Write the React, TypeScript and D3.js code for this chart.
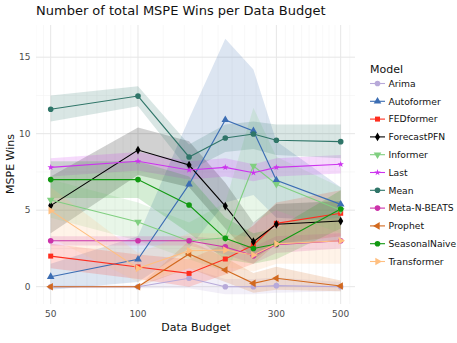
import React from "react";
import * as d3 from "d3";

// data budgets and series values
const budgets = [50, 100, 150, 200, 250, 300, 500];
const xTicks = [50, 100, 300, 500];
const yTicks = [0, 5, 10, 15];

const models = ["Arima", "Autoformer", "FEDformer", "ForecastPFN", "Informer", "Last", "Mean", "Meta-N-BEATS", "Prophet", "SeasonalNaive", "Transformer"];

const arima = [0, 0, 0.55, 0, 0, 0.07, 0];
const autoformer = [0.65, 1.79, 6.69, 10.9, 10.18, 6.96, 5.38];
const fedformer = [2.0, 1.29, 0.87, 1.81, 2.73, 4.14, 4.8];
const forecastpfn = [5.3, 8.93, 7.95, 5.27, 2.94, 4.08, 4.29];
const informer = [5.67, 4.23, 2.99, 3.2, 7.89, 6.7, 5.0];
const last = [7.8, 8.2, 7.63, 7.8, 7.45, 7.8, 8.0];
const mean = [11.6, 12.46, 8.48, 9.72, 9.98, 9.57, 9.48];
const metaNBeats = [3.0, 3.0, 3.0, 2.6, 2.03, 2.75, 3.0];
const prophet = [0, 0, 2.14, 1.09, 0.22, 0.55, 0.05];
const seasonalNaive = [7.0, 7.0, 5.34, 3.16, 2.5, 2.79, 5.08];
const transformer = [4.97, 1.2, 2.35, 2.4, 2.07, 2.8, 3.0];

// ribbon bounds
const arimaLo = [-0.1, -0.1, -0.1, -0.5, -0.5, -0.4, -0.3];
const arimaHi = [0.1, 0.1, 1.2, 0.5, 0.5, 0.6, 0.3];
const autoformerLo = [-0.2, 0.3, 2.5, 5.5, 6.0, 4.5, 4.3];
const autoformerHi = [1.5, 3.3, 11.0, 16.2, 14.2, 9.5, 6.5];
const fedformerLo = [1.2, 0.5, 0.0, 0.8, 1.5, 2.8, 3.3];
const fedformerHi = [2.8, 2.1, 1.8, 2.8, 4.0, 5.5, 6.3];
const forecastpfnLo = [3.5, 7.3, 6.5, 3.8, 1.8, 2.8, 3.0];
const forecastpfnHi = [7.2, 10.4, 9.5, 6.8, 4.2, 5.4, 5.6];
const informerLo = [4.5, 3.0, 1.8, 1.0, 4.2, 5.0, 3.5];
const informerHi = [7.0, 5.5, 4.2, 5.5, 11.7, 8.5, 6.5];
const lastLo = [7.2, 7.6, 7.0, 7.2, 6.9, 7.2, 7.4];
const lastHi = [8.4, 8.8, 8.2, 8.4, 8.0, 8.4, 8.6];
const meanLo = [10.8, 11.8, 7.6, 8.8, 9.0, 8.6, 8.4];
const meanHi = [12.5, 13.1, 9.3, 10.6, 10.8, 10.6, 10.6];
const metaLo = [2.7, 2.7, 2.7, 2.1, 1.5, 2.2, 2.5];
const metaHi = [3.3, 3.3, 3.3, 3.1, 2.6, 3.3, 3.5];
const prophetLo = [0, 0, 1.2, 0.3, -0.4, -0.2, -0.3];
const prophetHi = [0, 0, 3.0, 1.9, 0.9, 1.3, 0.4];
const naiveLo = [5.8, 5.8, 3.5, 1.8, 1.5, 1.8, 3.8];
const naiveHi = [8.2, 8.2, 7.2, 4.5, 3.5, 3.8, 6.3];
const transformerLo = [3.2, 0.3, 1.2, 1.3, 1.0, 1.5, 1.5];
const transformerHi = [6.5, 2.2, 3.5, 3.5, 3.2, 4.2, 4.5];

const colors = ["#b7a9d9", "#3b6db3", "#ff2d1e", "#000000", "#80cf80", "#cc33ee", "#2f7568", "#cc33aa", "#d2691e", "#119911", "#ffbf80"];
const shapes = ["circle", "triangle", "square", "diamond", "triangleDown", "star", "circle", "circle", "triangleLeft", "circle", "triangleRight"];

const series = [
  [arima, arimaLo, arimaHi],
  [autoformer, autoformerLo, autoformerHi],
  [fedformer, fedformerLo, fedformerHi],
  [forecastpfn, forecastpfnLo, forecastpfnHi],
  [informer, informerLo, informerHi],
  [last, lastLo, lastHi],
  [mean, meanLo, meanHi],
  [metaNBeats, metaLo, metaHi],
  [prophet, prophetLo, prophetHi],
  [seasonalNaive, naiveLo, naiveHi],
  [transformer, transformerLo, transformerHi],
];

const W = 457, H = 343;
const panel = { left: 36, right: 355, top: 25, bottom: 304 };
const font = "DejaVu Sans, sans-serif";

function symbolPath(shape: string) {
  const map: any = {
    circle: d3.symbolCircle,
    triangle: d3.symbolTriangle,
    triangleDown: d3.symbolTriangle,
    triangleLeft: d3.symbolTriangle,
    triangleRight: d3.symbolTriangle,
    square: d3.symbolSquare,
    diamond: d3.symbolDiamond,
    star: d3.symbolStar,
  };
  const size = shape === "star" ? 13 : shape === "diamond" ? 22 : 25;
  return d3.symbol().type(map[shape]).size(size)() as string;
}

function rot(shape: string) {
  if (shape === "triangleDown") return 180;
  if (shape === "triangleLeft") return -90;
  if (shape === "triangleRight") return 90;
  return 0;
}

export default function App() {
  const x = d3.scaleLog().domain([50, 500]).range([50.7, 340.7]);
  const y = d3.scaleLinear().domain([0, 15]).range([286.7, 57.2]);

  // minor vertical grid: 8 linear steps between major breaks
  const minorX: number[] = [];
  const ext = [25, ...xTicks, 833];
  for (let i = 0; i < ext.length - 1; i++) {
    const a = ext[i], b = ext[i + 1];
    for (let k = 1; k < 9; k++) minorX.push(a + ((b - a) * k) / 9);
  }
  const minorY = [2.5, 7.5, 12.5];

  const line = d3.line<number>().x((_, i) => x(budgets[i])).y((d) => y(d));
  const area = (lo: number[], hi: number[]) =>
    d3.area<number>()
      .x((_, i) => x(budgets[i]))
      .y0((_, i) => y(lo[i]))
      .y1((_, i) => y(hi[i]))(budgets);

  return (
    <svg width={W} height={H} style={{ position: "absolute", left: 0, top: 0, background: "#fff" }} fontFamily={font}>
      <defs>
        <clipPath id="panel">
          <rect x={panel.left} y={panel.top} width={panel.right - panel.left} height={panel.bottom - panel.top} />
        </clipPath>
      </defs>
      {/* grid */}
      <g clipPath="url(#panel)">
        {minorX.map((v, i) => (
          <line key={"mx" + i} x1={x(v)} x2={x(v)} y1={panel.top} y2={panel.bottom} stroke="#f3f3f3" strokeWidth={0.6} />
        ))}
        {minorY.map((v, i) => (
          <line key={"my" + i} x1={panel.left} x2={panel.right} y1={y(v)} y2={y(v)} stroke="#f3f3f3" strokeWidth={0.6} />
        ))}
        {xTicks.map((v) => (
          <line key={"X" + v} x1={x(v)} x2={x(v)} y1={panel.top} y2={panel.bottom} stroke="#e6e6e6" strokeWidth={1} />
        ))}
        {yTicks.map((v) => (
          <line key={"Y" + v} x1={panel.left} x2={panel.right} y1={y(v)} y2={y(v)} stroke="#e6e6e6" strokeWidth={1} />
        ))}
      </g>
      {/* ribbons */}
      {series.map((s, i) => (
        <path key={"r" + i} d={area(s[1], s[2]) as string} fill={colors[i]} fillOpacity={0.18} stroke="none" />
      ))}
      {/* lines */}
      {series.map((s, i) => (
        <path key={"l" + i} d={line(s[0]) as string} fill="none" stroke={colors[i]} strokeWidth={1.1} />
      ))}
      {/* points */}
      {series.map((s, i) =>
        s[0].map((v, j) => (
          <path key={"p" + i + "-" + j} d={symbolPath(shapes[i])}
            transform={`translate(${x(budgets[j])},${y(v)}) rotate(${rot(shapes[i])})`} fill={colors[i]} />
        ))
      )}
      {/* axes text */}
      {xTicks.map((v) => (
        <text key={"xt" + v} x={x(v)} y={317} textAnchor="middle" fontSize={9} fill="#4d4d4d">{v}</text>
      ))}
      {yTicks.map((v) => (
        <text key={"yt" + v} x={30.5} y={y(v) + 3.2} textAnchor="end" fontSize={9} fill="#4d4d4d">{v}</text>
      ))}
      <text x={196} y={331} textAnchor="middle" fontSize={11} fill="#111">Data Budget</text>
      <text transform="translate(14,164) rotate(-90)" textAnchor="middle" fontSize={11} fill="#111">MSPE Wins</text>
      <text x={36} y={15} fontSize={13} fill="#111">Number of total MSPE Wins per Data Budget</text>
      {/* legend */}
      <text x={370} y={73} fontSize={11} fill="#111">Model</text>
      {models.map((m, i) => {
        const cy = 83.5 + i * 17.8;
        return (
          <g key={m}>
            <line x1={370} x2={385} y1={cy} y2={cy} stroke={colors[i]} strokeWidth={1.1} />
            <path d={symbolPath(shapes[i])}
              transform={`translate(377.5,${cy}) rotate(${rot(shapes[i])})`} fill={colors[i]} />
            <text x={388.5} y={cy + 3.3} fontSize={9.2} fill="#111">{m}</text>
          </g>
        );
      })}
    </svg>
  );
}
